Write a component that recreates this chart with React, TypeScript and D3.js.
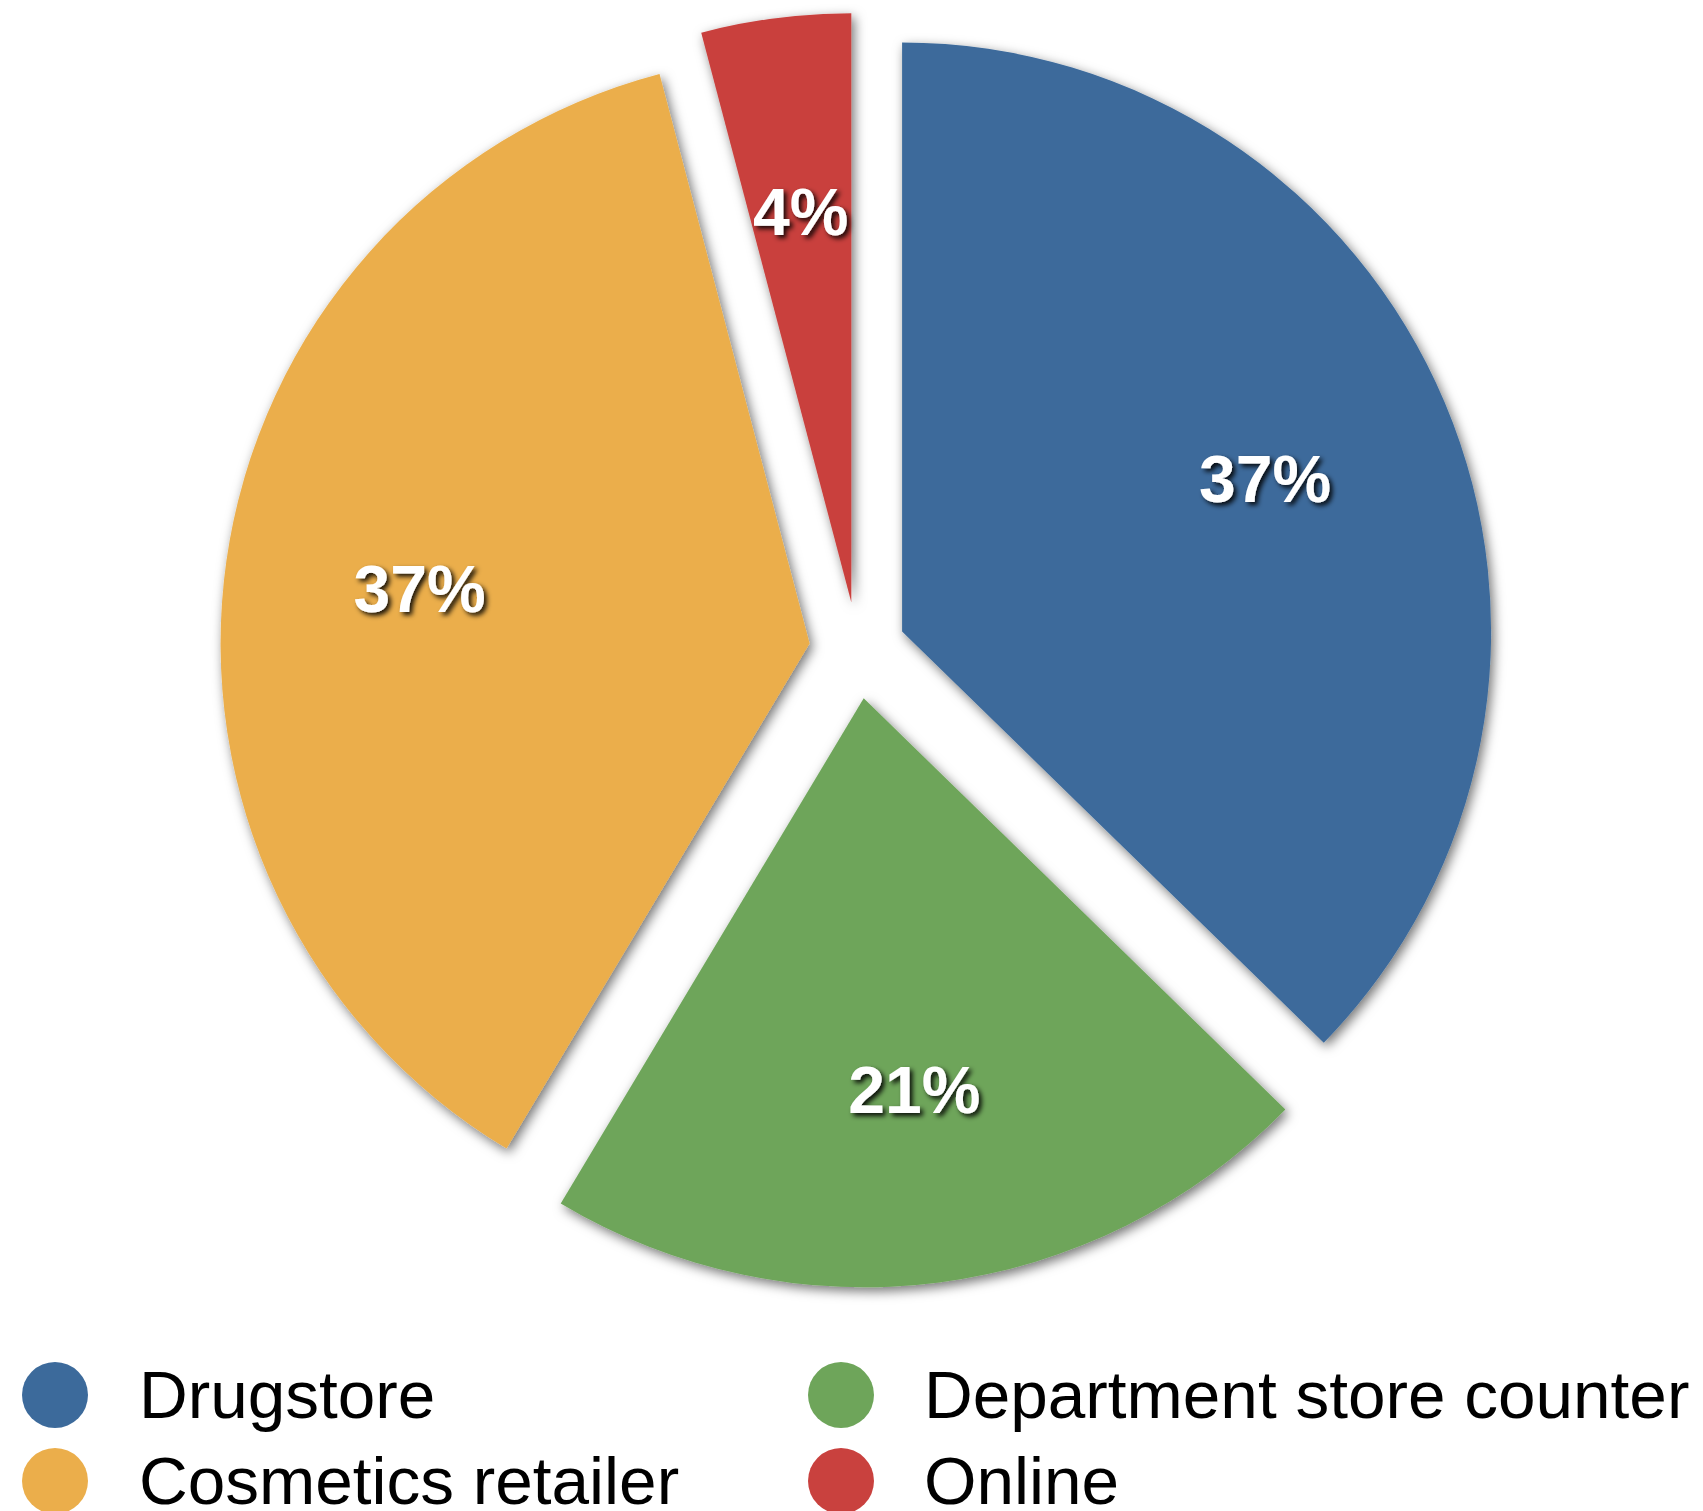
import React from "react";
import * as d3 from "d3";

const categories = ["Drugstore", "Department store counter", "Cosmetics retailer", "Online"];
const values = [37.3, 21.3, 37.3, 4.1];
const colors = ["#3c6a9b", "#6ea55a", "#ebae4b", "#c9413e"];
const legendRows = [
  ["Drugstore", "Department store counter"],
  ["Cosmetics retailer", "Online"],
];

export default function App() {
  const W = 1703;
  const H = 1511;
  const cx = 857.5;
  const cy = 650.3;
  const R = 589;
  const explode = 48.4;
  const labelR = 394;

  const pie = d3.pie<number>().sort(null).startAngle(0).endAngle(2 * Math.PI);
  const arcs = pie(values);
  const arc = d3.arc<d3.PieArcDatum<number>>().innerRadius(0).outerRadius(R);
  const total = d3.sum(values);

  const legendX = [55, 841];
  const textX = [139, 924];
  const rowY = [1395, 1481];

  return (
    <svg width={W} height={H} style={{ position: "absolute", left: 0, top: 0 }}>
      <defs>
        <filter id="sliceShadow" x="-20%" y="-20%" width="140%" height="140%">
          <feDropShadow dx="3" dy="4" stdDeviation="6" floodColor="#000" floodOpacity="0.55" />
        </filter>
        <filter id="textShadow" x="-30%" y="-30%" width="160%" height="160%">
          <feDropShadow dx="3" dy="3" stdDeviation="2.5" floodColor="#000" floodOpacity="0.9" />
        </filter>
      </defs>
      <rect width={W} height={H} fill="#fff" />
      <g transform={`translate(${cx},${cy})`}>
        {arcs.map((a, i) => {
          const mid = (a.startAngle + a.endAngle) / 2;
          const dx = Math.sin(mid) * explode;
          const dy = -Math.cos(mid) * explode;
          return (
            <g key={i} transform={`translate(${dx},${dy})`} filter="url(#sliceShadow)">
              <path d={arc(a) as string} fill={colors[i]} />
            </g>
          );
        })}
        {arcs.map((a, i) => {
          const mid = (a.startAngle + a.endAngle) / 2;
          const dx = Math.sin(mid) * explode;
          const dy = -Math.cos(mid) * explode;
          const lx = dx + Math.sin(mid) * labelR;
          const ly = dy - Math.cos(mid) * labelR;
          return (
            <text
              key={"l" + i}
              x={lx}
              y={ly}
              dy="0.36em"
              textAnchor="middle"
              fill="#fff"
              fontFamily="'Liberation Sans', Arial, Helvetica, sans-serif"
              fontWeight="bold"
              fontSize={66}
              filter="url(#textShadow)"
            >
              {Math.round((values[i] / total) * 100)}%
            </text>
          );
        })}
      </g>
      {legendRows.map((row, r) =>
        row.map((name, c) => {
          const idx = categories.indexOf(name);
          return (
            <g key={name}>
              <circle cx={legendX[c]} cy={rowY[r]} r={33} fill={colors[idx]} />
              <text
                x={textX[c]}
                y={rowY[r] + 23}
                fontFamily="'Liberation Sans', Arial, Helvetica, sans-serif"
                fontSize={67.5}
                fill="#000"
              >
                {name}
              </text>
            </g>
          );
        })
      )}
    </svg>
  );
}
